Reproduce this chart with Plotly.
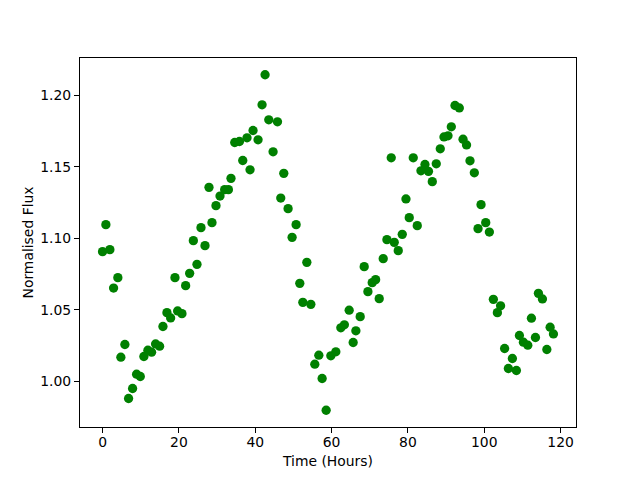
import plotly.graph_objects as go

time_hours = [0.00, 0.87, 1.92, 2.89, 4.01, 4.80, 5.85, 6.82, 7.87, 8.92,
              9.89, 10.83, 11.88, 12.85, 13.90, 14.95, 15.82, 16.87, 17.84, 18.97,
              19.67, 20.80, 21.77, 22.82, 23.79, 24.74, 25.79, 26.84, 27.89, 28.67,
              29.72, 30.77, 31.99, 32.97, 33.65, 34.63, 35.86, 36.73, 37.85, 38.64,
              39.43, 40.74, 41.79, 42.58, 43.55, 44.68, 45.83, 46.69, 47.48, 48.61,
              49.66, 50.71, 51.68, 52.47, 53.52, 54.57, 55.61, 56.66, 57.53, 58.58,
              59.81, 61.12, 62.43, 63.35, 64.61, 65.66, 66.37, 67.50, 68.55, 69.52,
              70.65, 71.54, 72.48, 73.53, 74.50, 75.63, 76.42, 77.47, 78.52, 79.49,
              80.35, 81.40, 82.45, 83.42, 84.47, 85.39, 86.39, 87.43, 88.48, 89.45,
              90.50, 91.37, 92.34, 93.47, 94.44, 95.36, 96.27, 97.40, 98.37, 99.16,
              100.39, 101.34, 102.39, 103.44, 104.28, 105.33, 106.32, 107.37, 108.42, 109.21,
              110.26, 111.41, 112.36, 113.41, 114.19, 115.24, 116.40, 117.26, 118.13]

flux = [1.0907, 1.1096, 1.0921, 1.0652, 1.0725, 1.0168, 1.0257, 0.9879, 0.9949, 1.0049,
        1.0033, 1.0173, 1.0217, 1.0203, 1.0261, 1.0245, 1.0383, 1.0480, 1.0443, 1.0725,
        1.0492, 1.0473, 1.0669, 1.0755, 1.0984, 1.0818, 1.1075, 1.0949, 1.1357, 1.1110,
        1.1229, 1.1296, 1.1341, 1.1341, 1.1420, 1.1671, 1.1678, 1.1545, 1.1704, 1.1480,
        1.1755, 1.1690, 1.1935, 1.2145, 1.1830, 1.1606, 1.1816, 1.1282, 1.1455, 1.1208,
        1.1007, 1.1096, 1.0685, 1.0552, 1.0832, 1.0538, 1.0119, 1.0182, 1.0019, 0.9797,
        1.0178, 1.0206, 1.0374, 1.0395, 1.0497, 1.0271, 1.0353, 1.0452, 1.0802, 1.0627,
        1.0690, 1.0711, 1.0578, 1.0858, 1.0991, 1.1564, 1.0972, 1.0914, 1.1028, 1.1276,
        1.1145, 1.1564, 1.1089, 1.1473, 1.1517, 1.1469, 1.1397, 1.1522, 1.1627, 1.1710,
        1.1718, 1.1781, 1.1930, 1.1913, 1.1694, 1.1654, 1.1543, 1.1459, 1.1068, 1.1236,
        1.1110, 1.1044, 1.0573, 1.0480, 1.0528, 1.0229, 1.0089, 1.0159, 1.0075, 1.0320,
        1.0273, 1.0252, 1.0441, 1.0306, 1.0615, 1.0576, 1.0222, 1.0378, 1.0331]

x_ticks = [0, 20, 40, 60, 80, 100, 120]
y_ticks = [1.00, 1.05, 1.10, 1.15, 1.20]


def padded(vals, frac=0.05):
    lo, hi = min(vals), max(vals)
    span = hi - lo
    return [lo - frac * span, hi + frac * span]


FONT = "DejaVu Sans"
fig = go.Figure(go.Scatter(
    x=time_hours, y=flux, mode="markers",
    marker=dict(color="#008000", size=9.3, line=dict(width=0)),
    showlegend=False,
))

axis_common = dict(
    showline=True, linecolor="black", linewidth=1, mirror=True,
    ticks="outside", ticklen=5, tickwidth=1, tickcolor="black",
    showgrid=False, zeroline=False,
    tickfont=dict(family=FONT, size=13.9, color="black"),
)

fig.update_layout(
    width=640, height=480,
    margin=dict(l=80, r=64, t=58, b=53, pad=0),
    paper_bgcolor="white", plot_bgcolor="white",
    font=dict(family=FONT, size=13.9, color="black"),
    xaxis=dict(range=padded(time_hours), tickvals=x_ticks,
               ticktext=[str(v) for v in x_ticks],
               ticklabelstandoff=-3,
               title=dict(text="Time (Hours)", standoff=7,
                          font=dict(family=FONT, size=13.9)),
               **axis_common),
    yaxis=dict(range=padded(flux), tickvals=y_ticks,
               ticktext=[f"{v:.2f}" for v in y_ticks],
               title=dict(text="Normalised Flux", standoff=3,
                          font=dict(family=FONT, size=13.9)),
               **axis_common),
)

fig.write_html("out.html",
               config={"displayModeBar": False},
               post_script="document.body.style.margin='0';document.body.style.padding='0';")
